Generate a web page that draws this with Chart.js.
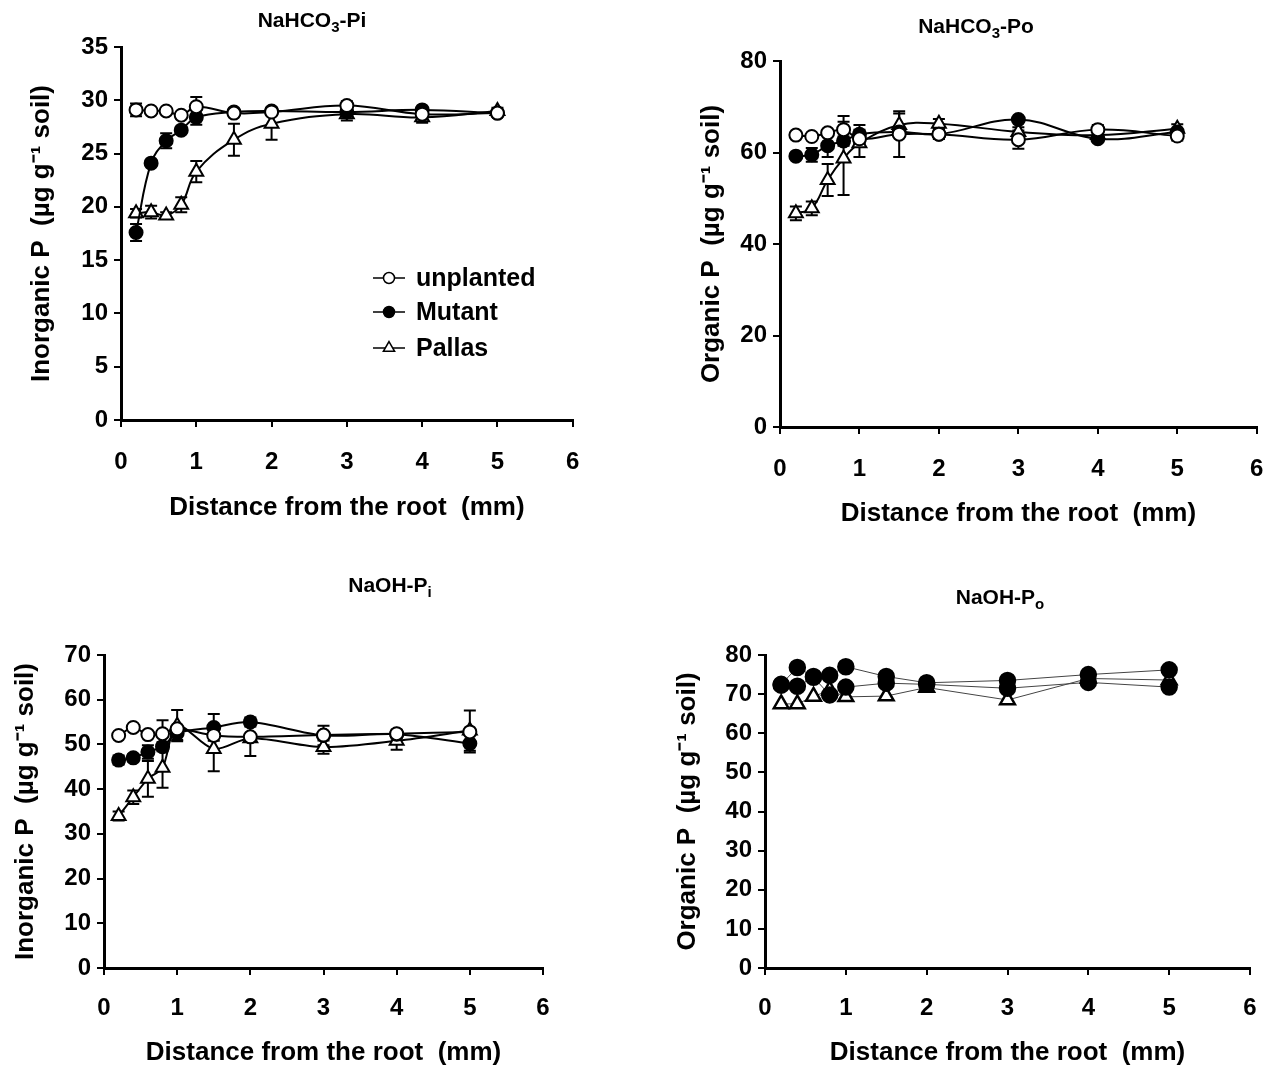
<!DOCTYPE html>
<html><head><meta charset="utf-8">
<script src="https://cdn.jsdelivr.net/npm/chart.js@4.4.1/dist/chart.umd.min.js"></script>
<style>
html,body{margin:0;padding:0;background:#fff;overflow:hidden;width:1284px;height:1070px;}
canvas{position:absolute;}
</style></head><body>
<canvas id="c1" width="600" height="540" style="left:0px;top:0px"></canvas>
<canvas id="c2" width="624" height="545" style="left:660px;top:0px"></canvas>
<canvas id="c3" width="620" height="510" style="left:0px;top:560px"></canvas>
<canvas id="c4" width="624" height="510" style="left:660px;top:560px"></canvas>
<script>
// ---------- data ----------
const distance = [0.2, 0.4, 0.6, 0.8, 1, 1.5, 2, 3, 4, 5];
const seriesNames = ['unplanted', 'Mutant', 'Pallas'];
const xTickValues = [0, 1, 2, 3, 4, 5, 6];

// NaHCO3-Pi
const piTicks = [0, 5, 10, 15, 20, 25, 30, 35];
const piUnplanted = [29.1, 29.0, 29.0, 28.6, 29.4, 28.8, 28.9, 29.5, 28.7, 28.8];
const piMutant    = [17.6, 24.1, 26.2, 27.2, 28.4, 28.9, 29.0, 28.9, 29.1, 28.8];
const piPallas    = [19.4, 19.5, 19.2, 20.2, 23.3, 26.3, 27.8, 28.7, 28.4, 29.0];
const piUnplantedErr = [0.6, 0.2, 0.2, 0.3, 0.9, 0.3, 0.3, 0.4, 0.4, 0.3];
const piMutantErr    = [0.8, 0.3, 0.7, 0.3, 0.7, 0.3, 0.3, 0.3, 0.3, 0.3];
const piPallasErr    = [0.4, 0.6, 0.3, 0.7, 1.0, 1.5, 1.5, 0.6, 0.5, 0.3];

// NaHCO3-Po
const poTicks = [0, 20, 40, 60, 80];
const poUnplanted = [63.8, 63.5, 64.3, 65.0, 63.0, 64.0, 64.0, 62.8, 65.0, 63.6];
const poMutant    = [59.2, 59.5, 61.5, 62.5, 64.0, 64.5, 64.0, 67.2, 63.0, 64.5];
const poPallas    = [46.7, 47.8, 54.0, 58.7, 62.0, 66.0, 66.3, 64.5, 63.8, 65.2];
const poUnplantedErr = [0.5, 0.5, 0.5, 3.0, 1.0, 5.0, 1.0, 2.0, 1.0, 1.0];
const poMutantErr    = [0.5, 1.5, 2.5, 1.0, 2.0, 0.5, 1.0, 0.5, 0.5, 0.5];
const poPallasErr    = [1.5, 1.5, 3.5, 8.0, 3.0, 2.5, 1.0, 1.0, 1.0, 1.0];

// NaOH-Pi
const niTicks = [0, 10, 20, 30, 40, 50, 60, 70];
const niUnplanted = [52.0, 53.8, 52.2, 52.4, 53.5, 52.0, 51.7, 52.1, 52.4, 52.8];
const niMutant    = [46.5, 47.0, 48.3, 49.5, 52.5, 53.8, 55.0, 52.0, 52.3, 50.2];
const niPallas    = [34.0, 38.2, 42.3, 44.8, 54.2, 49.0, 51.4, 49.4, 50.8, 53.1];
const niUnplantedErr = [0.5, 0.5, 0.5, 3.0, 0.5, 0.5, 0.5, 0.5, 0.5, 0.5];
const niMutantErr    = [1.0, 0.8, 1.5, 1.0, 1.5, 3.0, 1.0, 2.2, 1.0, 2.0];
const niPallasErr    = [1.0, 1.5, 4.0, 4.5, 3.5, 5.0, 4.0, 1.5, 2.0, 4.5];

// NaOH-Po
const noTicks = [0, 10, 20, 30, 40, 50, 60, 70, 80];
const noUnplanted = [72.5, 76.8, 74.5, 74.8, 77.0, 74.5, 72.9, 73.5, 75.0, 76.2];
const noMutant    = [72.3, 72.0, 74.3, 69.8, 71.8, 72.8, 72.5, 71.5, 73.0, 71.8];
const noPallas    = [67.5, 67.5, 69.4, 71.0, 69.3, 69.5, 71.7, 68.5, 74.0, 73.6];

// panel titles (base text + subscript parts)
const titleP1 = [['NaHCO', false], ['3', true], ['-Pi', false]];
const titleP2 = [['NaHCO', false], ['3', true], ['-Po', false]];
const titleP3 = [['NaOH-P', false], ['i', true]];
const titleP4 = [['NaOH-P', false], ['o', true]];

// ---------- helpers ----------
const FONT = "'Liberation Sans', Arial, Helvetica, sans-serif";

const errorBarPlugin = {
  id: 'errorBars',
  beforeDatasetsDraw(chart) {
    const ctx = chart.ctx, ys = chart.scales.y;
    chart.data.datasets.forEach((ds, i) => {
      if (!ds.errors) return;
      const meta = chart.getDatasetMeta(i);
      meta.data.forEach((pt, j) => {
        const e = ds.errors[j];
        if (!e) return;
        const v = ds.data[j].y;
        const y1 = ys.getPixelForValue(v + e), y2 = ys.getPixelForValue(v - e);
        ctx.save();
        ctx.strokeStyle = '#000'; ctx.lineWidth = 2;
        ctx.beginPath();
        ctx.moveTo(pt.x, y1); ctx.lineTo(pt.x, y2);
        ctx.moveTo(pt.x - 6, y1); ctx.lineTo(pt.x + 6, y1);
        ctx.moveTo(pt.x - 6, y2); ctx.lineTo(pt.x + 6, y2);
        ctx.stroke();
        ctx.restore();
      });
    });
  }
};

const panelTitlePlugin = {
  id: 'panelTitle',
  afterDraw(chart, args, opts) {
    if (!opts || !opts.parts) return;
    const ctx = chart.ctx, size = opts.size, subSize = Math.round(size * 0.7);
    ctx.save();
    ctx.fillStyle = '#000';
    ctx.textBaseline = 'alphabetic'; ctx.textAlign = 'left';
    let total = 0;
    const widths = opts.parts.map(([t, sub]) => {
      ctx.font = 'bold ' + (sub ? subSize : size) + 'px ' + FONT;
      const w = ctx.measureText(t).width; total += w; return w;
    });
    let x = opts.x - total / 2;
    opts.parts.forEach(([t, sub], k) => {
      ctx.font = 'bold ' + (sub ? subSize : size) + 'px ' + FONT;
      ctx.fillText(t, x, opts.y + (sub ? size * 0.22 : 0));
      x += widths[k];
    });
    ctx.restore();
  }
};

function drawMarker(ctx, style, fill, x, y, r) {
  ctx.beginPath();
  if (style === 'triangle') {
    ctx.moveTo(x, y - r);
    ctx.lineTo(x + r * 0.866, y + r * 0.5);
    ctx.lineTo(x - r * 0.866, y + r * 0.5);
    ctx.closePath();
  } else {
    ctx.arc(x, y, r, 0, Math.PI * 2);
  }
  ctx.fillStyle = fill; ctx.fill();
  ctx.strokeStyle = '#000'; ctx.lineWidth = 1.5; ctx.stroke();
}

const legendPlugin = {
  id: 'customLegend',
  afterDraw(chart) {
    const ctx = chart.ctx, ca = chart.chartArea;
    const x0 = ca.left + 252, x1 = ca.left + 284, tx = ca.left + 295;
    const rows = [ca.top + 231, ca.top + 265, ca.top + 301];
    chart.data.datasets.forEach((ds, i) => {
      const y = rows[i];
      ctx.save();
      ctx.strokeStyle = '#000'; ctx.lineWidth = 1.5;
      ctx.beginPath(); ctx.moveTo(x0, y); ctx.lineTo(x1, y); ctx.stroke();
      drawMarker(ctx, ds.pointStyle, ds.pointBackgroundColor, (x0 + x1) / 2, y, ds.pointStyle === 'triangle' ? 6.5 : 5.5);
      ctx.fillStyle = '#000';
      ctx.font = 'bold 25px ' + FONT;
      ctx.textBaseline = 'middle'; ctx.textAlign = 'left';
      ctx.fillText(ds.label, tx, y + 1);
      ctx.restore();
    });
  }
};

function makePanel(p) {
  const styles = [
    { pointStyle: 'circle', bg: p.unplantedFill || '#fff', r: p.circleR },
    { pointStyle: 'circle', bg: '#000', r: p.circleR },
    { pointStyle: 'triangle', bg: '#fff', r: p.triR }
  ];
  const tickFont = { family: FONT, size: 24, weight: 'bold' };
  const titleFont = { family: FONT, size: 26, weight: 'bold' };
  const grid = { display: true, drawOnChartArea: false, drawTicks: true, tickLength: 7, lineWidth: 2, color: '#000' };
  const border = { display: true, color: '#000', width: 3 };
  return new Chart(document.getElementById(p.id), {
    type: 'line',
    data: {
      datasets: p.series.map((s, i) => ({
        label: seriesNames[i],
        data: distance.map((x, j) => ({ x: x, y: s.values[j] })),
        errors: s.errors,
        borderColor: p.lineColor,
        borderWidth: p.lineWidth,
        tension: p.tension,
        pointStyle: styles[i].pointStyle,
        pointRadius: styles[i].r,
        pointBackgroundColor: styles[i].bg,
        pointBorderColor: '#000',
        pointBorderWidth: p.pointBorder,
        fill: false,
        clip: false
      }))
    },
    options: {
      responsive: false,
      animation: false,
      events: [],
      layout: { padding: { left: 0, right: p.padRight, top: p.chartTop, bottom: 0 } },
      plugins: {
        legend: { display: false },
        tooltip: { enabled: false },
        title: { display: false },
        panelTitle: { parts: p.title, x: p.titleX, y: p.titleY, size: 21 }
      },
      scales: {
        x: {
          type: 'linear',
          min: xTickValues[0], max: xTickValues[xTickValues.length - 1],
          afterBuildTicks(s) { s.ticks = xTickValues.map(v => ({ value: v })); },
          ticks: { font: tickFont, color: '#000', padding: p.xTickPad, maxRotation: 0 },
          grid: grid, border: border,
          title: { display: true, text: 'Distance from the root  (mm)', color: '#000', font: titleFont,
                   padding: { top: 0, bottom: p.xTitlePad } },
          afterFit(s) { s.height = p.xAxisH; }
        },
        y: {
          type: 'linear',
          min: p.yTicks[0], max: p.yTicks[p.yTicks.length - 1],
          afterBuildTicks(s) { s.ticks = p.yTicks.map(v => ({ value: v })); },
          ticks: { font: tickFont, color: '#000', padding: 6 },
          grid: grid, border: border,
          title: { display: true, text: p.yTitle, color: '#000', font: titleFont,
                   padding: { top: p.yTitlePad, bottom: 0 } },
          afterFit(s) { s.width = p.yAxisW; }
        }
      }
    },
    plugins: p.legend ? [errorBarPlugin, panelTitlePlugin, legendPlugin] : [errorBarPlugin, panelTitlePlugin]
  });
}

makePanel({
  id: 'c1', title: titleP1, titleX: 312, titleY: 27,
  yTitle: 'Inorganic P  (\u00b5g g\u207b\u00b9 soil)', yTicks: piTicks,
  series: [
    { values: piUnplanted, errors: piUnplantedErr },
    { values: piMutant, errors: piMutantErr },
    { values: piPallas, errors: piPallasErr }
  ],
  lineColor: '#000', lineWidth: 2, tension: 0.4, circleR: 6.5, triR: 8, pointBorder: 2,
  padRight: 24, chartTop: 47, xAxisH: 120, xTickPad: 20.6, xTitlePad: 16.4,
  yAxisW: 121, yTitlePad: 26.4, legend: true
});

makePanel({
  id: 'c2', title: titleP2, titleX: 316, titleY: 33,
  yTitle: 'Organic P  (\u00b5g g\u207b\u00b9 soil)', yTicks: poTicks,
  series: [
    { values: poUnplanted, errors: poUnplantedErr },
    { values: poMutant, errors: poMutantErr },
    { values: poPallas, errors: poPallasErr }
  ],
  lineColor: '#000', lineWidth: 2, tension: 0.4, circleR: 6.5, triR: 8, pointBorder: 2,
  padRight: 25, chartTop: 61, xAxisH: 118, xTickPad: 20.6, xTitlePad: 15.4,
  yAxisW: 120, yTitlePad: 36.4
});

makePanel({
  id: 'c3', title: titleP3, titleX: 390, titleY: 32,
  yTitle: 'Inorganic P  (\u00b5g g\u207b\u00b9 soil)', yTicks: niTicks,
  series: [
    { values: niUnplanted, errors: niUnplantedErr },
    { values: niMutant, errors: niMutantErr },
    { values: niPallas, errors: niPallasErr }
  ],
  lineColor: '#000', lineWidth: 2, tension: 0.3, circleR: 6.5, triR: 8, pointBorder: 2,
  padRight: 77, chartTop: 95, xAxisH: 102, xTickPad: 18.6, xTitlePad: 1.4,
  yAxisW: 104, yTitlePad: 10.4
});

makePanel({
  id: 'c4', title: titleP4, titleX: 340, titleY: 44,
  yTitle: 'Organic P  (\u00b5g g\u207b\u00b9 soil)', yTicks: noTicks,
  series: [
    { values: noUnplanted },
    { values: noMutant },
    { values: noPallas }
  ],
  unplantedFill: '#000',
  lineColor: '#444', lineWidth: 1, tension: 0, circleR: 7.5, triR: 8.5, pointBorder: 2.5,
  padRight: 34, chartTop: 95, xAxisH: 102, xTickPad: 18.6, xTitlePad: 1.4,
  yAxisW: 105, yTitlePad: 12.4
});
</script>
</body></html>
